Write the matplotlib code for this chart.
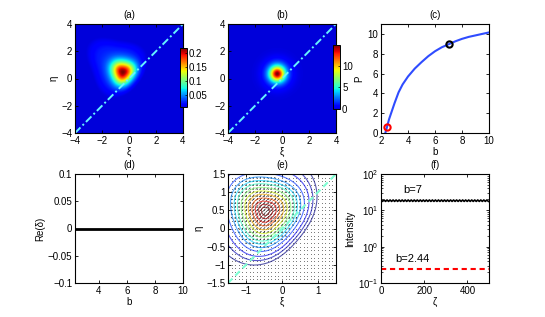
import numpy as np
import matplotlib
matplotlib.use("Agg")
import matplotlib.pyplot as plt
from matplotlib.colors import ListedColormap

plt.rcParams['font.family'] = ['Liberation Sans', 'DejaVu Sans']
plt.rcParams['font.size'] = 7
plt.rcParams['axes.linewidth'] = 0.8

# ---- data ----
# (a) broad triangular soliton, core + halo (centre, width, peak, triangularity)
a_core_center = (-0.45, 0.47)
a_core_width = 0.82
a_core_peak = 0.193
a_core_tri = 0.07
a_halo_center = (-1.05, 1.05)
a_halo_width = 2.0
a_halo_peak = 0.026
a_halo_tri = 0.15
a_tri_turn = -10.0
a_clim = (0.007, 0.218)
a_cticks = [0.05, 0.1, 0.15, 0.2]
a_cticklabels = ['0.05', '0.1', '0.15', '0.2']

# (b) narrow soliton
b_center = (-0.35, 0.35)
b_width = 0.55
b_peak = 14.8
b_clim = (0, 14.8)
b_cticks = [0, 5, 10]

# (c) power vs b
c_b = [2.32, 2.44, 2.6, 2.8, 3.0, 3.3, 3.6, 4.0, 4.5, 5.0, 5.5, 6.0,
       6.5, 7.0, 7.5, 8.0, 8.5, 9.0, 9.5, 10.0]
c_P = [0.0, 0.58, 1.4, 2.2, 3.0, 4.1, 4.9, 5.7, 6.5, 7.15, 7.75, 8.25,
       8.65, 8.95, 9.25, 9.5, 9.7, 9.85, 10.0, 10.15]
c_mark_red = (2.44, 0.58)
c_mark_black = (7.0, 8.95)

# (d) growth rate
d_b = [2.32, 10.0]
d_re = [0.0, 0.0]

# (e) contour levels of the (a) field
e_levels = [0.022, 0.03, 0.04, 0.055, 0.07, 0.085, 0.1, 0.12, 0.14,
            0.16, 0.18, 0.195, 0.207, 0.214]

# (f) intensity vs zeta
f_b7_zeta = np.arange(0, 501, 7)
f_b7_int = ([19.3, 17.6] * 40)[:len(f_b7_zeta)]
f_b244_zeta = [0, 500]
f_b244_int = [0.25, 0.25]

# ---- helpers ----
def tri_r(X, Y, c, k):
    dx, dy = X - c[0], Y - c[1]
    r = np.hypot(dx, dy)
    th = np.arctan2(dy, dx) - np.radians(a_tri_turn)
    return r * (1 - k * np.sin(3 * th))


def field_a(X, Y):
    r1 = tri_r(X, Y, a_core_center, a_core_tri)
    r2 = tri_r(X, Y, a_halo_center, a_halo_tri)
    return (a_core_peak * np.exp(-(r1 / a_core_width) ** 2)
            + a_halo_peak * np.exp(-(r2 / a_halo_width) ** 4))


def field_b(X, Y):
    r = np.hypot(X - b_center[0], Y - b_center[1])
    return b_peak / np.cosh(r / b_width) ** 2


def style(ax):
    ax.tick_params(direction='in', top=True, right=True, length=2.5,
                   width=0.6, pad=2, labelsize=7)
    ax.tick_params(which='minor', direction='in', top=True, right=True,
                   length=1.5, width=0.5)


jet = plt.get_cmap('jet')
cmap = ListedColormap(jet(np.linspace(0.08, 1, 256)))
diag_col = '#66f2ff'

fig = plt.figure(figsize=(5.45, 3.17), dpi=100)

W, H = 108 / 545, 109 / 317
top_y, bot_y = 1 - 133 / 317, 1 - 283 / 317
xs = [75 / 545, 228 / 545, 381 / 545]

x = np.linspace(-4, 4, 300)
X, Y = np.meshgrid(x, x)

# (a)
ax = fig.add_axes([xs[0], top_y, W, H])
im = ax.imshow(field_a(X, Y), extent=[-4, 4, -4, 4], origin='lower',
               cmap=cmap, vmin=a_clim[0], vmax=a_clim[1], aspect='auto')
ax.plot([-4, 4], [-4, 4], color=diag_col, lw=1.4, ls=(0, (4, 1.5, 1, 1.5)))
ax.set_xlim(-4, 4); ax.set_ylim(-4, 4)
ax.set_xticks([-4, -2, 0, 2, 4]); ax.set_yticks([-4, -2, 0, 2, 4])
ax.set_xlabel('ξ', labelpad=1); ax.set_ylabel('η', labelpad=2)
ax.set_title('(a)', fontsize=7, pad=4)
style(ax)
cax = fig.add_axes([180 / 545, 1 - 107 / 317, 7 / 545, 59 / 317])
cb = fig.colorbar(im, cax=cax, ticks=a_cticks)
cb.ax.set_yticklabels(a_cticklabels)
cb.ax.tick_params(direction='in', length=1.5, width=0.5, pad=1.5, labelsize=7)
cb.outline.set_linewidth(0.7)

# (b)
ax = fig.add_axes([xs[1], top_y, W, H])
im = ax.imshow(field_b(X, Y), extent=[-4, 4, -4, 4], origin='lower',
               cmap=cmap, vmin=b_clim[0], vmax=b_clim[1], aspect='auto')
ax.plot([-4, 4], [-4, 4], color=diag_col, lw=1.4, ls=(0, (4, 1.5, 1, 1.5)))
ax.set_xlim(-4, 4); ax.set_ylim(-4, 4)
ax.set_xticks([-4, -2, 0, 2, 4]); ax.set_yticks([-4, -2, 0, 2, 4])
ax.set_xlabel('ξ', labelpad=1)
ax.set_title('(b)', fontsize=7, pad=4)
style(ax)
cax = fig.add_axes([333 / 545, 1 - 109 / 317, 7 / 545, 64 / 317])
cb = fig.colorbar(im, cax=cax, ticks=b_cticks)
cb.ax.tick_params(direction='in', length=1.5, width=0.5, pad=1.5, labelsize=7)
cb.outline.set_linewidth(0.7)

# (c)
ax = fig.add_axes([xs[2], top_y, W, H])
ax.plot(c_b, c_P, color='#2f4cff', lw=1.5)
ax.plot(*c_mark_red, 'o', mfc='none', mec='red', mew=1.5, ms=4.5)
ax.plot(*c_mark_black, 'o', mfc='none', mec='black', mew=1.5, ms=4.5)
ax.set_xlim(2, 10); ax.set_ylim(0, 11)
ax.set_xticks([2, 4, 6, 8, 10]); ax.set_yticks([0, 2, 4, 6, 8, 10])
ax.set_xlabel('b', labelpad=1); ax.set_ylabel('P', labelpad=2)
ax.set_title('(c)', fontsize=7, pad=4)
style(ax)

# (d)
ax = fig.add_axes([xs[0], bot_y, W, H])
ax.plot(d_b, d_re, color='black', lw=2)
ax.set_xlim(2.32, 10); ax.set_ylim(-0.1, 0.1)
ax.set_xticks([4, 6, 8, 10]); ax.set_yticks([-0.1, -0.05, 0, 0.05, 0.1])
ax.set_yticklabels(['−0.1', '−0.05', '0', '0.05', '0.1'])
ax.set_xlabel('b', labelpad=1); ax.set_ylabel('Re(δ)', labelpad=2)
ax.set_title('(d)', fontsize=7, pad=4)
style(ax)

# (e)
ax = fig.add_axes([xs[1], bot_y, W, H])
xe = np.linspace(-1.5, 1.5, 200)
XE, YE = np.meshgrid(xe, xe)
FE = field_a(XE, YE)
ax.contour(XE, YE, FE, levels=e_levels, cmap='jet', linewidths=0.8, alpha=0.65)
xq = np.linspace(-1.5, 1.5, 31)
XQ, YQ = np.meshgrid(xq, xq)
FQ = field_a(XQ, YQ)
amp = np.clip(FQ - 0.03, 0, None) / (a_clim[1] - 0.03) * 0.075 + 0.02
ax.scatter(XQ.ravel(), YQ.ravel(), s=0.4, color='0.4', lw=0)
m = FQ > 0.065
ax.quiver(XQ[m], YQ[m], amp[m], amp[m], angles='xy', scale_units='xy',
          scale=1, color='black', width=0.005, headwidth=2.2, headlength=2.2,
          headaxislength=2.0, pivot='middle')
ax.plot([-1.5, 1.5], [-1.5, 1.5], color='#7fffd4', lw=1.5, ls=(0, (3, 2)))
ax.set_xlim(-1.5, 1.5); ax.set_ylim(-1.5, 1.5)
ax.set_xticks([-1, 0, 1]); ax.set_yticks([-1.5, -1, -0.5, 0, 0.5, 1, 1.5])
ax.set_yticklabels(['−1.5', '−1', '−0.5', '0', '0.5', '1', '1.5'])
ax.set_xlabel('ξ', labelpad=1); ax.set_ylabel('η', labelpad=2)
ax.set_title('(e)', fontsize=7, pad=4)
style(ax)

# (f)
ax = fig.add_axes([xs[2], bot_y, W, H])
ax.plot(f_b7_zeta, f_b7_int, color='black', lw=1.2)
ax.plot(f_b244_zeta, f_b244_int, color='red', lw=1.5, ls=(0, (2.5, 1.8)))
ax.set_yscale('log')
ax.set_xlim(0, 500); ax.set_ylim(0.1, 100)
ax.set_xticks([0, 200, 400])
ax.text(103, 30, 'b=7', fontsize=8)
ax.text(68, 0.38, 'b=2.44', fontsize=8)
ax.set_xlabel('ζ', labelpad=1); ax.set_ylabel('Intensity', labelpad=2)
ax.set_title('(f)', fontsize=7, pad=4)
style(ax)

fig.savefig('out.png', dpi=100)
